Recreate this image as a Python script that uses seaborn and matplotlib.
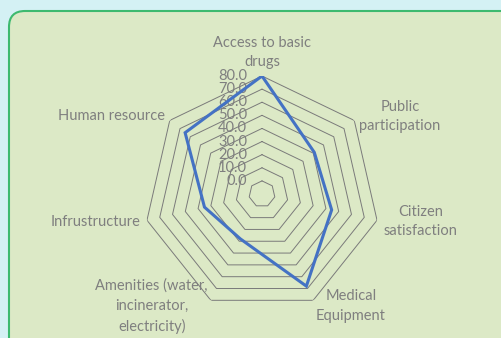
import seaborn as sns
import numpy as np
import matplotlib.pyplot as plt
from matplotlib.patches import FancyBboxPatch
from matplotlib.transforms import IdentityTransform

sns.set_style('white')
plt.rcParams['font.family'] = ['Lato', 'DejaVu Sans']

# radar categories (clockwise from top) and values
categories = ['Access to basic\ndrugs', 'Public\nparticipation', 'Citizen\nsatisfaction',
              'Medical\nEquipment', 'Amenities (water,\nincinerator,\nelectricity)',
              'Infrustructure', 'Human resource']
values = [80.0, 41.0, 44.5, 68.0, 28.0, 35.0, 65.0]
ring_values = [0, 10, 20, 30, 40, 50, 60, 70, 80]
ring_labels = ['0.0', '10.0', '20.0', '30.0', '40.0', '50.0', '60.0', '70.0', '80.0']

label_align = [('center', 'bottom'), ('left', 'center'), ('left', 'center'), ('left', 'center'),
               ('right', 'center'), ('right', 'center'), ('right', 'center')]

txt_color = '#7f7f7f'
grid_color = '#7a7a7a'
line_color = '#4472c4'

fig = plt.figure(figsize=(5.02, 3.38), dpi=100, facecolor='#d4f1f4')

# light green panel with rounded green border
panel = FancyBboxPatch((9, -30), 540, 338 - 11 + 30, boxstyle='round,pad=0,rounding_size=16',
                       transform=IdentityTransform(), facecolor='#dce9c6', edgecolor='#3dba6f',
                       linewidth=1.5, zorder=-5)
fig.patches.append(panel)

ax = fig.add_axes([144 / 502, 26 / 338, 236 / 502, 236 / 338], projection='polar')
ax.set_zorder(2)
ax.set_facecolor('none')
ax.set_theta_zero_location('N')
ax.set_theta_direction(-1)
ax.set_ylim(-10, 80)
ax.grid(False)
ax.spines['polar'].set_visible(False)
ax.set_xticks([])
ax.set_yticks([])

n = len(categories)
theta = np.linspace(0, 2 * np.pi, n, endpoint=False)
theta_closed = np.append(theta, theta[0])
values_closed = values + values[:1]

# heptagon gridlines
for rv in ring_values:
    ax.plot(theta_closed, [rv] * (n + 1), color=grid_color, lw=0.7, zorder=1)

# data line (closed polygon)
ax.plot(theta_closed, values_closed, color=line_color, lw=2.2, zorder=3,
        solid_joinstyle='miter')

# value labels along top spoke
for rv, lab in zip(ring_values, ring_labels):
    ax.annotate(lab, xy=(0, rv), xytext=(-15, 0), textcoords='offset pixels',
                ha='right', va='center', fontsize=10.5, color=txt_color, zorder=2)

# category labels
for t, lab, (ha, va) in zip(theta, categories, label_align):
    ax.text(t, 85, lab, ha=ha, va=va, fontsize=10.5, color=txt_color,
            multialignment='center', linespacing=1.5)

fig.savefig('out.png', dpi=100, facecolor=fig.get_facecolor())
